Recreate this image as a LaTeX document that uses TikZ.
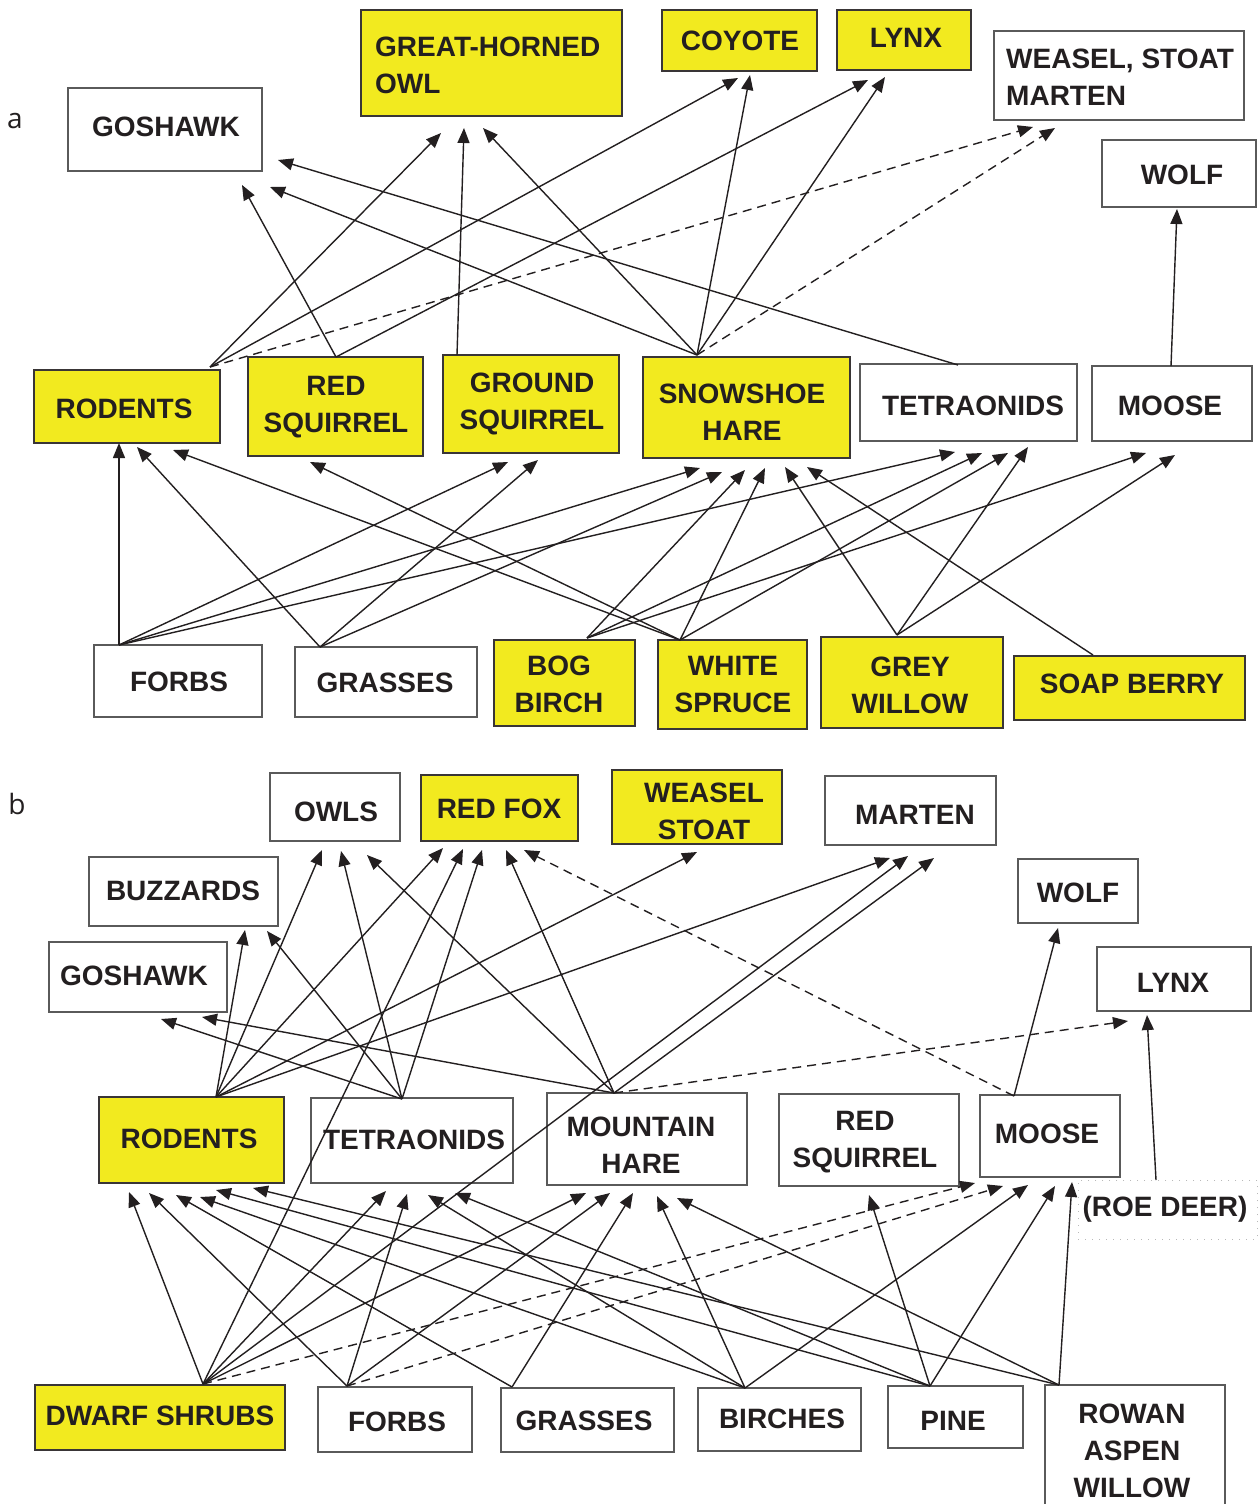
\documentclass[tikz,border=0pt]{standalone}
\usepackage{fontspec}
\setmainfont{Liberation Sans}
\newfontfamily\labfont{Open Sans}
\usetikzlibrary{arrows.meta}
\definecolor{ink}{HTML}{231F20}
\definecolor{yel}{HTML}{F2EA1F}
\definecolor{edgegray}{HTML}{5A5A5A}
\tikzset{
  boxbase/.style={rectangle, outer sep=0pt, inner sep=0pt, line width=1.4pt},
  ybox/.style={boxbase, fill=yel, draw=ink!90},
  wbox/.style={boxbase, fill=white, draw=edgegray},
  rbox/.style={boxbase, draw=gray!55, line width=1pt, dash pattern=on 1pt off 6pt},
  txt/.style={font=\bfseries\fontsize{28}{37}\selectfont, text=ink, align=center, inner sep=0pt},
  ltxt/.style={txt, align=left, anchor=west},
  panel/.style={font=\labfont\fontsize{28}{32}\selectfont, text=ink, inner sep=0pt},
  arr/.style={-{Triangle[length=15pt,width=12pt]}, line width=1.4pt, draw=ink},
  dsh/.style={arr, dash pattern=on 9pt off 6pt},
}
\newcommand\mybox[6]{\node[#2, minimum width={#5-#3}, minimum height={#6-#4}] (#1) at ({(#3+#5)/2},{(#4+#6)/2}) {};}
\newcommand\ed[3][arr]{\draw[#1] (#2) -- (#3);}
\begin{document}
\begin{tikzpicture}[x=1pt,y=-1pt]
\useasboundingbox[fill=white] (0,0) rectangle (1260,1504);

% ================= panel a =================
\node[panel] (lba) at (15,121) {a};
\mybox{aGHO}{ybox}{361}{10}{622}{116}
\mybox{aCOY}{ybox}{662}{10}{817}{71}
\mybox{aLYN}{ybox}{837}{10}{971}{70}
\mybox{aWEA}{wbox}{994}{31}{1244}{120}
\mybox{aGOS}{wbox}{68}{88}{262}{171}
\mybox{aWOL}{wbox}{1102}{140}{1256}{207}
\mybox{aROD}{ybox}{34}{370}{220}{443}
\mybox{aRSQ}{ybox}{248}{357}{423}{456}
\mybox{aGSQ}{ybox}{443}{355}{619}{453}
\mybox{aSNO}{ybox}{643}{357}{850}{458}
\mybox{aTET}{wbox}{860}{364}{1077}{441}
\mybox{aMOO}{wbox}{1092}{366}{1252}{441}
\mybox{aFOR}{wbox}{94}{645}{262}{717}
\mybox{aGRA}{wbox}{295}{647}{477}{717}
\mybox{aBOG}{ybox}{494}{640}{635}{726}
\mybox{aWSP}{ybox}{658}{640}{807}{729}
\mybox{aGWI}{ybox}{821}{637}{1003}{728}
\mybox{aSOA}{ybox}{1014}{656}{1245}{720}

\node[ltxt] (aGHOt) at (375,65) {GREAT-HORNED\\OWL};
\node[txt] (aCOYt) at (740,41) {COYOTE};
\node[txt] (aLYNt) at (906,38) {LYNX};
\node[ltxt] (aWEAt) at (1006,77) {WEASEL, STOAT\\MARTEN};
\node[txt] (aGOSt) at (166,127) {GOSHAWK};
\node[txt] (aWOLt) at (1182,175) {WOLF};
\node[txt] (aRODt) at (124,409) {RODENTS};
\node[txt] (aRSQt) at (336,407) {RED\\SQUIRREL};
\node[txt] (aGSQt) at (532,404) {GROUND\\SQUIRREL};
\node[txt] (aSNOt) at (742,412) {SNOWSHOE\\HARE};
\node[txt] (aTETt) at (973,406) {TETRAONIDS};
\node[txt] (aMOOt) at (1170,406) {MOOSE};
\node[txt] (aFORt) at (179,682) {FORBS};
\node[txt] (aGRAt) at (385,683) {GRASSES};
\node[txt] (aBOGt) at (559,684) {BOG\\BIRCH};
\node[txt] (aWSPt) at (733,684) {WHITE\\SPRUCE};
\node[txt] (aGWIt) at (910,685) {GREY\\WILLOW};
\node[txt] (aSOAt) at (1132,684) {SOAP BERRY};

% fan points a
\coordinate (faROD) at (210,367);
\coordinate (faRSQ) at (336,357);
\coordinate (faGSQ) at (457,355);
\coordinate (faSNO) at (697,355);
\coordinate (faTET) at (958,365);
\coordinate (faMOO) at (1171,366);
\coordinate (faFOR) at (119,645);
\coordinate (faGRA) at (320,647);
\coordinate (faBOG) at (587,638);
\coordinate (faWSP) at (680,640);
\coordinate (faGWI) at (897,635);
\coordinate (faSOA) at (1093,655);
% tips a
\coordinate (taGHO1) at (441,133);
\coordinate (taGHO2) at (464,128);
\coordinate (taGHO3) at (483,128);
\coordinate (taCOY1) at (738,78);
\coordinate (taCOY2) at (750,75);
\coordinate (taLYN1) at (868,80);
\coordinate (taLYN2) at (885,77);
\coordinate (taWEA1) at (1033,127);
\coordinate (taWEA2) at (1055,128);
\coordinate (taGOS1) at (242,185);
\coordinate (taGOS2) at (270,187);
\coordinate (taGOS3) at (278,160);
\coordinate (taWOL) at (1177,209);
\coordinate (taROD1) at (119,443);
\coordinate (taROD2) at (137,447);
\coordinate (taROD3) at (173,450);
\coordinate (taRSQ) at (310,462);
\coordinate (taGSQ1) at (508,462);
\coordinate (taGSQ2) at (538,460);
\coordinate (taSNO1) at (700,468);
\coordinate (taSNO2) at (722,472);
\coordinate (taSNO3) at (745,470);
\coordinate (taSNO4) at (765,468);
\coordinate (taSNO5) at (785,467);
\coordinate (taSNO6) at (807,467);
\coordinate (taTET1) at (955,452);
\coordinate (taTET2) at (982,453);
\coordinate (taTET3) at (1008,453);
\coordinate (taTET4) at (1028,447);
\coordinate (taMOO1) at (1146,453);
\coordinate (taMOO2) at (1175,455);

\ed{faROD}{taGHO1}
\ed{faROD}{taCOY1}
\ed[dsh]{faROD}{taWEA1}
\ed{faRSQ}{taGOS1}
\ed{faRSQ}{taLYN1}
\ed{faGSQ}{taGHO2}
\ed{faSNO}{taGHO3}
\ed{faSNO}{taCOY2}
\ed{faSNO}{taLYN2}
\ed[dsh]{faSNO}{taWEA2}
\ed{faSNO}{taGOS2}
\ed{faTET}{taGOS3}
\ed{faMOO}{taWOL}
\ed{faFOR}{taROD1}
\ed{faFOR}{taGSQ1}
\ed{faFOR}{taSNO1}
\ed{faFOR}{taTET1}
\ed{faGRA}{taROD2}
\ed{faGRA}{taGSQ2}
\ed{faGRA}{taSNO2}
\ed{faBOG}{taSNO3}
\ed{faBOG}{taTET2}
\ed{faBOG}{taMOO1}
\ed{faWSP}{taROD3}
\ed{faWSP}{taRSQ}
\ed{faWSP}{taSNO4}
\ed{faWSP}{taTET3}
\ed{faGWI}{taSNO5}
\ed{faGWI}{taTET4}
\ed{faGWI}{taMOO2}
\ed{faSOA}{taSNO6}

% ================= panel b =================
\node[panel] (lbb) at (17,804) {b};
\mybox{bOWL}{wbox}{270}{773}{400}{841}
\mybox{bRFX}{ybox}{421}{775}{578}{841}
\mybox{bWST}{ybox}{612}{770}{782}{844}
\mybox{bMAR}{wbox}{825}{776}{996}{845}
\mybox{bBUZ}{wbox}{89}{857}{278}{926}
\mybox{bWOL}{wbox}{1018}{859}{1138}{923}
\mybox{bGOS}{wbox}{49}{942}{227}{1012}
\mybox{bLYN}{wbox}{1097}{947}{1251}{1011}
\mybox{bROD}{ybox}{99}{1097}{284}{1183}
\mybox{bTET}{wbox}{311}{1098}{513}{1183}
\mybox{bMHA}{wbox}{547}{1093}{747}{1185}
\mybox{bRSQ}{wbox}{779}{1094}{959}{1186}
\mybox{bMOO}{wbox}{980}{1095}{1120}{1177}
\mybox{bROE}{rbox}{1078}{1180}{1257}{1239}
\mybox{bDWA}{ybox}{35}{1385}{285}{1450}
\mybox{bFOR}{wbox}{318}{1387}{472}{1452}
\mybox{bGRA}{wbox}{501}{1388}{674}{1452}
\mybox{bBIR}{wbox}{698}{1388}{861}{1451}
\mybox{bPIN}{wbox}{888}{1386}{1023}{1448}
\node[boxbase, minimum width=180, minimum height=119] (bROW) at (1135,1444.5) {};
\draw[line width=1.4pt, draw=edgegray] (1045,1504) -- (1045,1385) -- (1225,1385) -- (1225,1504);

\node[txt] (bOWLt) at (336,812) {OWLS};
\node[txt] (bRFXt) at (499,809) {RED FOX};
\node[txt] (bWSTt) at (704,811) {WEASEL\\STOAT};
\node[txt] (bMARt) at (915,815) {MARTEN};
\node[txt] (bBUZt) at (183,891) {BUZZARDS};
\node[txt] (bWOLt) at (1078,893) {WOLF};
\node[txt] (bGOSt) at (134,976) {GOSHAWK};
\node[txt] (bLYNt) at (1173,983) {LYNX};
\node[txt] (bRODt) at (189,1139) {RODENTS};
\node[txt] (bTETt) at (414,1140) {TETRAONIDS};
\node[txt] (bMHAt) at (641,1145) {MOUNTAIN\\HARE};
\node[txt] (bRSQt) at (865,1142) {RED\\SQUIRREL};
\node[txt] (bMOOt) at (1047,1134) {MOOSE};
\node[txt] (bROEt) at (1165,1209) {(ROE DEER)};
\node[txt] (bDWAt) at (160,1416) {DWARF SHRUBS};
\node[txt] (bFORt) at (397,1422) {FORBS};
\node[txt] (bGRAt) at (584,1421) {GRASSES};
\node[txt] (bBIRt) at (782,1419) {BIRCHES};
\node[txt] (bPINt) at (953,1421) {PINE};
\node[txt] (bROWt) at (1132,1451) {ROWAN\\ASPEN\\WILLOW};

% fan points b
\coordinate (fbROD) at (216,1097);
\coordinate (fbTET) at (402,1099);
\coordinate (fbMHA) at (614,1093);
\coordinate (fbMOO) at (1014,1096);
\coordinate (fbROE) at (1156,1180);
\coordinate (fbDWA) at (203,1384);
\coordinate (fbFOR) at (347,1386);
\coordinate (fbGRA) at (512,1387);
\coordinate (fbBIR) at (745,1388);
\coordinate (fbPIN) at (930,1386);
\coordinate (fbROW) at (1059,1385);
% tips b
\coordinate (tbBUZ1) at (245,930);
\coordinate (tbBUZ2) at (267,931);
\coordinate (tbOWL1) at (322,850);
\coordinate (tbOWL2) at (341,851);
\coordinate (tbOWL3) at (367,855);
\coordinate (tbRFX1) at (443,848);
\coordinate (tbRFX2) at (463,849);
\coordinate (tbRFX3) at (482,850);
\coordinate (tbRFX4) at (506,850);
\coordinate (tbRFX5) at (524,850);
\coordinate (tbWST) at (697,852);
\coordinate (tbMAR1) at (890,858);
\coordinate (tbMAR2) at (908,856);
\coordinate (tbMAR3) at (934,858);
\coordinate (tbGOS1) at (161,1019);
\coordinate (tbGOS2) at (202,1017);
\coordinate (tbWOL) at (1058,928);
\coordinate (tbLYN1) at (1128,1021);
\coordinate (tbLYN2) at (1147,1015);
\coordinate (tbROD1) at (129,1192);
\coordinate (tbROD2) at (149,1193);
\coordinate (tbROD3) at (176,1195);
\coordinate (tbROD4) at (200,1197);
\coordinate (tbROD5) at (216,1190);
\coordinate (tbROD6) at (253,1188);
\coordinate (tbTET1) at (386,1191);
\coordinate (tbTET2) at (407,1194);
\coordinate (tbTET3) at (428,1195);
\coordinate (tbTET4) at (455,1193);
\coordinate (tbMHA1) at (586,1193);
\coordinate (tbMHA2) at (610,1193);
\coordinate (tbMHA3) at (633,1193);
\coordinate (tbMHA4) at (657,1196);
\coordinate (tbMHA5) at (677,1198);
\coordinate (tbRSQ) at (869,1195);
\coordinate (tbMOO1) at (975,1183);
\coordinate (tbMOO2) at (1003,1186);
\coordinate (tbMOO3) at (1028,1185);
\coordinate (tbMOO4) at (1055,1186);
\coordinate (tbMOO5) at (1072,1182);

\ed{fbROD}{tbBUZ1}
\ed{fbROD}{tbOWL1}
\ed{fbROD}{tbRFX1}
\ed{fbROD}{tbWST}
\ed{fbROD}{tbMAR1}
\ed{fbTET}{tbBUZ2}
\ed{fbTET}{tbGOS1}
\ed{fbTET}{tbOWL2}
\ed{fbTET}{tbRFX3}
\ed{fbMHA}{tbOWL3}
\ed{fbMHA}{tbRFX4}
\ed{fbMHA}{tbGOS2}
\ed{fbMHA}{tbMAR3}
\ed[dsh]{fbMHA}{tbLYN1}
\ed{fbMOO}{tbWOL}
\ed[dsh]{fbMOO}{tbRFX5}
\ed{fbROE}{tbLYN2}
\ed{fbDWA}{tbROD1}
\ed{fbDWA}{tbRFX2}
\ed{fbDWA}{tbTET1}
\ed{fbDWA}{tbMAR2}
\ed{fbDWA}{tbMHA1}
\ed[dsh]{fbDWA}{tbMOO1}
\ed{fbFOR}{tbROD2}
\ed{fbFOR}{tbTET2}
\ed{fbFOR}{tbMHA2}
\ed[dsh]{fbFOR}{tbMOO2}
\ed{fbGRA}{tbROD3}
\ed{fbGRA}{tbMHA3}
\ed{fbBIR}{tbROD4}
\ed{fbBIR}{tbTET3}
\ed{fbBIR}{tbMHA4}
\ed{fbBIR}{tbMOO3}
\ed{fbPIN}{tbROD5}
\ed{fbPIN}{tbTET4}
\ed{fbPIN}{tbRSQ}
\ed{fbPIN}{tbMOO4}
\ed{fbROW}{tbROD6}
\ed{fbROW}{tbMHA5}
\ed{fbROW}{tbMOO5}
\end{tikzpicture}
\end{document}
